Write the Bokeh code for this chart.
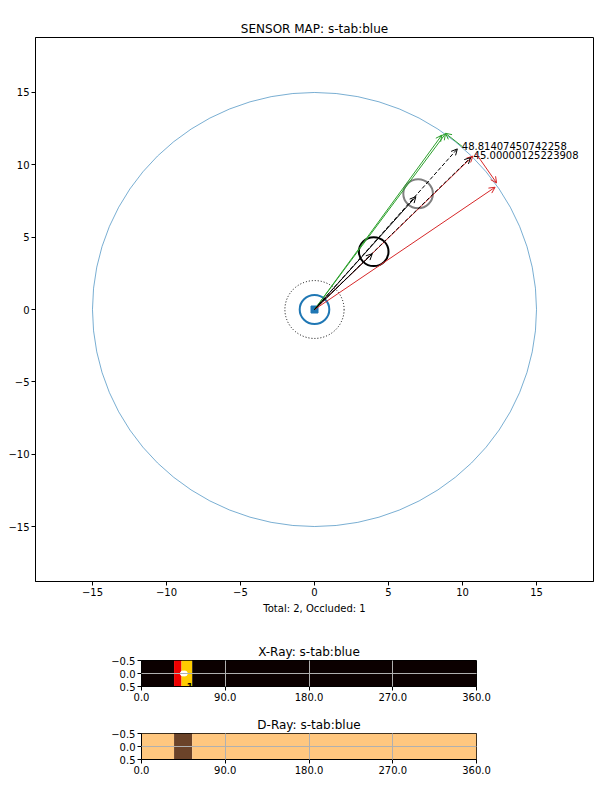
from bokeh.plotting import figure
from bokeh.models import Arrow, OpenHead, ColumnDataSource, FixedTicker, Range1d
from bokeh.core.properties import value
from bokeh.embed import file_html
from bokeh.resources import INLINE

FONT = "DejaVu Sans"

# --- sensor map data ---
range_r = 15.0          # sensing range
sensor_r = 1.0          # sensor body
halo_r = 2.0            # dotted safety ring
obj_x = [4.0, 7.0]
obj_y = [4.0, 8.0]
obj_d = [2.0, 2.0]      # diameters
obj_color = ["black", "gray"]

green_x0 = [0.0, 0.0, 10.0]
green_y0 = [0.0, 0.0, 11.25]
green_x1 = [8.6, 8.85, 8.85]
green_y1 = [12.05, 12.15, 12.18]

red_x0 = [0.0, 0.0, 10.9]
red_y0 = [0.0, 0.0, 10.8]
red_x1 = [10.7, 12.2, 12.3]
red_y1 = [10.6, 8.45, 8.75]

black_x1 = [3.9, 6.85]
black_y1 = [3.85, 7.8]
dash_x1 = [9.65, 10.55]
dash_y1 = [11.1, 10.5]

label_x = [9.95, 10.75]
label_y = [11.3, 10.65]
label_txt = ["48.81407450742258", "45.00000125223908"]

main_ticks = [-15, -10, -5, 0, 5, 10, 15]

# --- ray strips (degrees) ---
xray_start = [0, 35, 43, 54.5]
xray_end = [35, 43, 54.5, 360]
xray_color = ["#0b0000", "#ee0000", "#ffcc00", "#0b0000"]
xray_mark_x = [44.5, 46.5]
xray_txt_x = [48.3, 48.9]
xray_txt = ["1", "1"]

dray_start = [0, 35, 54.5]
dray_end = [35, 54.5, 360]
dray_color = ["#ffc77f", "#6b4329", "#ffc77f"]

deg_ticks = [0, 90, 180, 270, 360]
strip_yticks = [-0.5, 0.0, 0.5]


def minus(v):
    return str(v).replace("-", "\u2212")


def style(p, title):
    p.title.text = title
    p.title.text_font = FONT
    p.title.text_font_size = "12px"
    p.title.text_font_style = "normal"
    p.title.text_color = "black"
    p.title.align = "center"
    p.title.standoff = 3
    p.outline_line_color = "black"
    p.outline_line_alpha = 1
    p.background_fill_color = "white"
    p.border_fill_color = "white"
    for ax in (p.xaxis, p.yaxis):
        ax.axis_line_color = "black"
        ax.major_tick_line_color = "black"
        ax.major_tick_out = 4
        ax.major_tick_in = 0
        ax.minor_tick_line_color = None
        ax.major_label_text_font = FONT
        ax.major_label_text_font_size = "10px"
        ax.major_label_text_color = "black"
        ax.major_label_standoff = 2


# ---------------- sensor map ----------------
p = figure(width=600, height=618, output_backend="svg", toolbar_location=None,
           x_range=Range1d(-18.85, 18.85), y_range=Range1d(-18.8, 18.8),
           min_border_left=35, min_border_right=7, min_border_top=37, min_border_bottom=37)
style(p, "SENSOR MAP: s-tab:blue")
p.xgrid.grid_line_color = None
p.ygrid.grid_line_color = None
p.xaxis.ticker = FixedTicker(ticks=main_ticks)
p.yaxis.ticker = FixedTicker(ticks=main_ticks)
p.xaxis.major_label_overrides = {t: minus(t) for t in main_ticks}
p.yaxis.major_label_overrides = {t: minus(t) for t in main_ticks}
p.xaxis.axis_label = "Total: 2, Occluded: 1"
p.xaxis.axis_label_text_font = FONT
p.xaxis.axis_label_text_font_size = "10px"
p.xaxis.axis_label_text_font_style = "normal"
p.xaxis.axis_label_text_color = "black"
p.xaxis.axis_label_standoff = 4

p.ellipse(x=0, y=0, width=2 * range_r, height=2 * range_r, fill_color=None,
          line_color="#1f77b4", line_width=0.6)
p.ellipse(x=0, y=0, width=2 * halo_r, height=2 * halo_r, fill_color=None,
          line_color="black", line_width=1, line_dash="1 2")
p.ellipse(x=0, y=0, width=2 * sensor_r, height=2 * sensor_r, fill_color=None,
          line_color="#1f77b4", line_width=2)
p.ellipse(x=obj_x, y=obj_y, width=obj_d, height=obj_d, fill_color=None,
          line_color=obj_color, line_width=2)
p.scatter(x=[0], y=[0], marker="square", size=7, color="#1f77b4")

gsrc = ColumnDataSource(dict(x0=green_x0, y0=green_y0, x1=green_x1, y1=green_y1))
rsrc = ColumnDataSource(dict(x0=red_x0, y0=red_y0, x1=red_x1, y1=red_y1))
bsrc = ColumnDataSource(dict(x0=[0.0] * len(black_x1), y0=[0.0] * len(black_y1), x1=black_x1, y1=black_y1))
dsrc = ColumnDataSource(dict(x0=[0.0] * len(dash_x1), y0=[0.0] * len(dash_y1), x1=dash_x1, y1=dash_y1))

for src, col, dash in ((gsrc, "#2ca02c", "solid"), (rsrc, "#d62728", "solid"),
                       (bsrc, "black", "solid"), (dsrc, "black", "4 2")):
    p.add_layout(Arrow(end=OpenHead(size=6, line_color=col, line_width=1),
                       source=src, x_start="x0", y_start="y0", x_end="x1", y_end="y1",
                       line_color=col, line_width=1, line_dash=dash))

p.text(x=label_x, y=label_y, text=label_txt, text_font=value(FONT), text_font_size="10px",
       text_baseline="alphabetic", text_align="left", text_color="black")

# ---------------- X-Ray strip ----------------
x = figure(width=600, height=88, output_backend="svg", toolbar_location=None,
           x_range=Range1d(0, 360), y_range=Range1d(0.5, -0.5),
           min_border_left=141, min_border_right=124, min_border_top=42, min_border_bottom=20)
style(x, "X-Ray: s-tab:blue")
x.quad(left=xray_start, right=xray_end, bottom=0.5, top=-0.5, color=xray_color, line_color=None)
x.scatter(x=xray_mark_x, y=[0, 0], size=5, color="white")
x.text(x=xray_txt_x, y=[0.5, 0.5], text=xray_txt, text_font=value(FONT), text_font_size="10px",
       text_baseline="alphabetic", text_color="black")

# ---------------- D-Ray strip ----------------
d = figure(width=600, height=73, output_backend="svg", toolbar_location=None,
           x_range=Range1d(0, 360), y_range=Range1d(0.5, -0.5),
           min_border_left=141, min_border_right=124, min_border_top=27, min_border_bottom=20)
style(d, "D-Ray: s-tab:blue")
d.quad(left=dray_start, right=dray_end, bottom=0.5, top=-0.5, color=dray_color, line_color=None)

for s in (x, d):
    s.xaxis.ticker = FixedTicker(ticks=deg_ticks)
    s.yaxis.ticker = FixedTicker(ticks=strip_yticks)
    s.xaxis.major_label_overrides = {t: "%.1f" % t for t in deg_ticks}
    s.yaxis.major_label_overrides = {t: minus("%.1f" % t) for t in strip_yticks}
    for g in (s.xgrid, s.ygrid):
        g.grid_line_color = "#b0b0b0"
        g.grid_line_width = 1
        g.level = "overlay"

# separate roots, so the frames are not aligned to each other
open("out.html", "w").write(file_html([p, x, d], INLINE))
